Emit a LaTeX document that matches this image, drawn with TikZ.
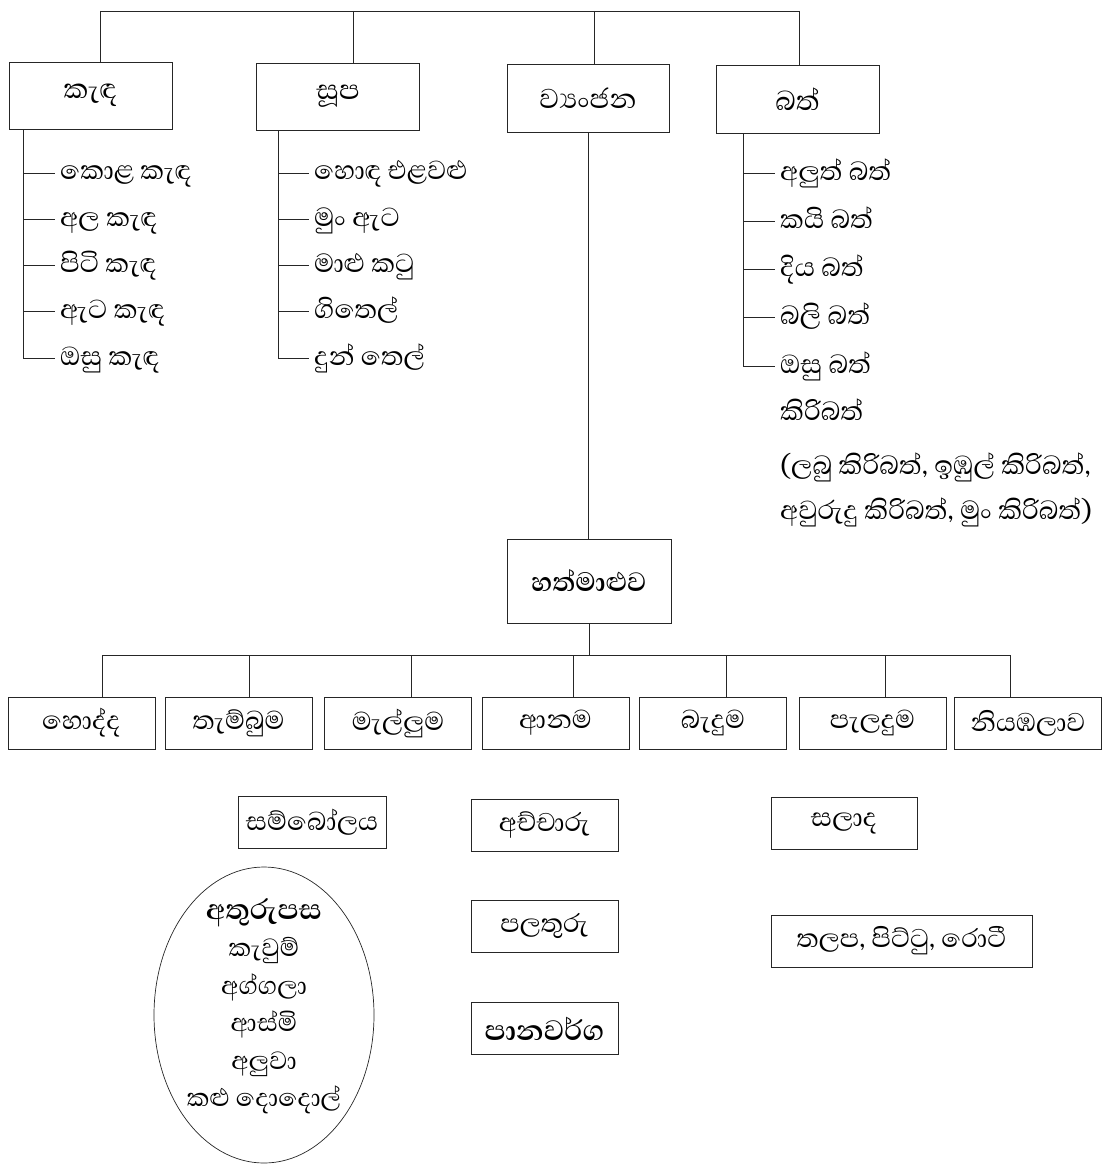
\documentclass[tikz,border=0pt]{standalone}
\usepackage{fontspec}
\newfontfamily\sinhfont[Script=Sinhala]{Abhaya Libre}
\usetikzlibrary{shapes.geometric}

\begin{document}
\begin{tikzpicture}[x=1pt, y=-1pt,
  link/.style={draw=black!85, line width=0.9pt},
  topbox/.style={draw=black!85, line width=0.9pt, minimum width=163pt, minimum height=67pt,
                 inner sep=0pt, font=\sinhfont\fontsize{35}{40}\selectfont},
  mealbox/.style={draw=black!85, line width=0.9pt, minimum width=147pt, minimum height=52pt,
                  inner sep=0pt, font=\sinhfont\fontsize{33}{38}\selectfont},
  item/.style={anchor=west, inner xsep=5pt, inner ysep=0pt, text height=20pt, text depth=6pt,
               font=\sinhfont\fontsize{33.5}{38}\selectfont},
  ovalbox/.style={ellipse, draw=black!85, line width=0.7pt, minimum width=220pt, minimum height=296pt,
                  inner sep=0pt},
  ovaltext/.style={align=center, inner sep=0pt, font=\sinhfont\fontsize{32}{37.5}\selectfont}
]
\useasboundingbox (0,0) rectangle (1115,1166);

% the four groups at the top
\node[topbox] (kd) at (90.5,95.5) {කැඳ};
\node[topbox] (sp) at (338,96.5) {සූප};
\node[topbox, minimum width=162pt, minimum height=68pt] (vj) at (588,98) {ව්^^^^200dයංජන};
\node[topbox, minimum height=68pt] (bt) at (797.5,99) {බත්};

\coordinate (t1) at (100,11); \coordinate (t2) at (353,11);
\coordinate (t3) at (594,11); \coordinate (t4) at (799,11);
\draw[link] (t1) -- (t4);
\foreach \n/\b in {t1/kd, t2/sp, t3/vj, t4/bt} { \draw[link] (\n) -- (\n |- \b.north); }

% lists under each group
\foreach \t [count=\i] in {කොළ කැඳ, අල කැඳ, පිටි කැඳ, ඇට කැඳ, ඔසු කැඳ}
  { \node[item] (kd\i) at (55,{126.7+46.3*\i}) {\t}; }
\foreach \t [count=\i] in {හොඳ එළවළු, මුං ඇට, මාළු කටු, ගිතෙල්, දුන් තෙල්}
  { \node[item] (sp\i) at (309,{126.7+46.3*\i}) {\t}; }
\foreach \t [count=\i] in {අලුත් බත්, කයි බත්, දිය බත්, බලි බත්, ඔසු බත්}
  { \node[item] (bt\i) at (775,{125+48.2*\i}) {\t}; }
\node[item] (kb1) at (775,413) {කිරිබත්};
\node[item] (kb2) at (775,467) {(ලබු කිරිබත්, ඉඹුල් කිරිබත්,};
\node[item] (kb3) at (775,512) {අවුරුදු කිරිබත්, මුං කිරිබත්)};

\coordinate (kds) at ([xshift=15pt]kd.south west);
\coordinate (sps) at ([xshift=22pt]sp.south west);
\coordinate (bts) at ([xshift=28pt]bt.south west);
\foreach \s in {kd, sp, bt} {
  \draw[link] (\s s) |- (\s5.west);
  \foreach \i in {1,...,4} { \draw[link] (\s s |- \s\i.west) -- (\s\i.west); }
}

% main meal
\node[topbox, minimum width=164pt, minimum height=84pt, font=\sinhfont\bfseries\fontsize{34}{40}\selectfont]
  (hm) at (589,581) {හත්මාළුව};
\draw[link] (vj.south) -- (vj.south |- hm.north);

\foreach \t/\x [count=\i] in {හොද්ද/81.5, තැම්බුම/238.5, මැල්ලුම/398, ආනම/555.5,
                              බැදුම/713, පැලදුම/872.5, නියඹලාව/1028}
  { \node[mealbox] (m\i) at (\x,723) {\t}; }
\foreach \x [count=\i] in {102, 249, 411, 573, 726, 885, 1010} { \coordinate (b\i) at (\x,655); }
\draw[link] (b1) -- (b7);
\draw[link] (hm.south) -- (hm.south |- b1);
\foreach \i in {1,...,7} { \draw[link] (b\i) -- (b\i |- m\i.north); }

% side dishes
\node[mealbox, minimum width=148pt] (sb) at (312,822) {සම්බෝලය};
\node[mealbox] (ac) at (544.5,825) {අච්චාරු};
\node[mealbox] (pl) at (544.5,926) {පලතුරු};
\node[mealbox, font=\sinhfont\bfseries\fontsize{36}{40}\selectfont] (pw) at (544.5,1028.5) {පානවර්ග};
\node[mealbox, minimum width=146pt] (sl) at (844,823) {සලාද};
\node[mealbox, minimum width=261pt] (tp) at (901.5,941) {තලප, පිට්ටු, රොටී};

\node[ovalbox] (at) at (264,1015) {};
\node[ovaltext] (atx) at ([yshift=9pt]at.center)
  {{\bfseries\fontsize{36}{37.5}\selectfont අතුරුපස}\\කැවුම්\\අග්ගලා\\ආස්මි\\අලුවා\\කළු දොදොල්};

\end{tikzpicture}
\end{document}
